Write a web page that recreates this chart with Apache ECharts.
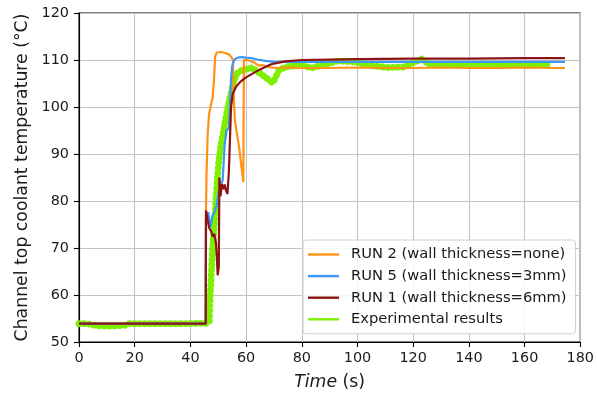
<!DOCTYPE html>
<html>
<head>
<meta charset="utf-8">
<script src="https://cdn.jsdelivr.net/npm/echarts@6/dist/echarts.min.js"></script>
<style>
  html, body { margin: 0; padding: 0; background: #fff; }
  #chart { width: 597px; height: 396px; }
</style>
</head>
<body>
<div id="chart"></div>
<script>
// ── Data ────────────────────────────────────────────────────────────────
const xTicks = [0, 20, 40, 60, 80, 100, 120, 140, 160, 180];
const yTicks = [50, 60, 70, 80, 90, 100, 110, 120];

// RUN 2 (wall thickness=none)
const run2Time = [0, 45.5, 45.6, 45.8, 46.2, 46.7, 47.4, 48.0, 48.5, 48.9, 49.5, 51, 52.5, 53.8, 54.8, 55.3, 55.5, 56.0, 56.8, 57.6, 58.4, 59.0, 59.2, 60, 61.5, 63, 64.5, 66, 68, 71, 75, 80, 90, 100, 110, 120, 130, 140, 150, 160, 170, 174.5];
const run2Temp = [53.9, 53.9, 78, 86, 94, 98.5, 100.5, 102, 106, 110.8, 111.6, 111.7, 111.5, 111.2, 110.6, 109.8, 103, 97, 94, 91, 87, 84, 110, 110, 109.8, 109.4, 108.8, 108.9, 108.5, 108.3, 108.4, 108.3, 108.3, 108.4, 108.3, 108.3, 108.4, 108.3, 108.3, 108.4, 108.3, 108.3];

// RUN 5 (wall thickness=3mm)
const run5Time = [0, 45.5, 45.6, 46.4, 47.2, 47.9, 48.6, 49.4, 50.2, 51.0, 51.6, 52.3, 53.0, 53.8, 54.2, 54.6, 55.0, 55.8, 57, 58.5, 60, 62, 64, 67, 70, 75, 80, 100, 120, 140, 160, 174.5];
const run5Temp = [53.9, 53.9, 76, 77.6, 74.4, 76.8, 77.5, 79, 82, 83.5, 84.5, 92, 95, 95.5, 100, 106, 108.7, 110.1, 110.5, 110.6, 110.5, 110.4, 110.1, 109.8, 109.6, 109.6, 109.6, 109.6, 109.6, 109.6, 109.6, 109.6];

// RUN 1 (wall thickness=6mm)
const run1Time = [0, 45.5, 45.6, 46.2, 46.8, 47.5, 48.0, 48.6, 49.2, 49.5, 49.8, 50.2, 50.4, 50.8, 51.3, 51.8, 52.3, 52.8, 53.3, 53.8, 54.2, 54.6, 55.2, 56.4, 58, 60, 62, 65, 69, 74, 80, 90, 100, 120, 140, 160, 174.5];
const run1Temp = [53.9, 53.9, 78, 76, 74.2, 73.5, 72.4, 73, 71, 68, 64.2, 66, 85, 81, 83.6, 82.5, 83.5, 82.2, 81.5, 86, 93, 100, 102.8, 104.3, 105.4, 106.3, 107, 108, 109.1, 109.7, 110, 110.1, 110.2, 110.3, 110.3, 110.4, 110.4];

// Experimental results
const expTime = [0, 3, 5, 8, 12, 16, 18, 25, 35, 46.5, 46.8, 47.0, 47.2, 47.5, 47.8, 48.1, 48.5, 48.9, 49.3, 49.7, 50.3, 51, 51.8, 52.5, 53.3, 54.2, 55.2, 56.2, 57.2, 58.5, 60, 62.4, 63.7, 65, 67.2, 69.6, 70.8, 72, 75, 80, 83.5, 88, 93, 99, 105, 110.7, 116.6, 123, 126, 130, 135, 140, 145, 150, 155, 160, 165, 168.5];
const expTemp = [53.9, 53.9, 53.6, 53.4, 53.4, 53.5, 53.9, 53.9, 53.9, 54.0, 54.5, 58, 61, 64.5, 68, 71, 74, 77.5, 81, 85, 89, 92, 94.5, 97, 99.5, 102, 104.5, 106.5, 107.5, 107.8, 108, 108.4, 107.6, 107.2, 106.2, 105.1, 106.6, 108, 108.6, 108.9, 108.3, 109, 109.8, 109.6, 108.8, 108.4, 108.5, 110.2, 109, 108.8, 109.2, 108.8, 109.2, 108.9, 109.1, 108.8, 109, 108.9];

// ── Style ───────────────────────────────────────────────────────────────
const fontFamily = 'DejaVu Sans';
const textColor = '#1a1a1a';
const orange = '#ff9214';
const blue = '#3d97f5';
const darkRed = '#8e1414';
const green = '#7cf000';
const gridColor = '#c4c4c4';

const pairs = (xs, ys) => xs.map((x, i) => [x, ys[i]]);

const chart = echarts.init(document.getElementById('chart'));
chart.setOption({
  animation: false,
  grid: {
    left: 79, right: 11.5, top: 13, bottom: 52.5,
    show: true, borderColor: '#000', borderWidth: 1.1,
  },
  legend: {
    orient: 'vertical',
    left: 303, top: 240,
    padding: [7, 9, 7, 5],
    icon: 'rect',
    itemWidth: 31, itemHeight: 2.4, itemGap: 6.6,
    backgroundColor: 'rgba(255,255,255,0.85)',
    borderColor: '#d0d0d0', borderWidth: 1, borderRadius: 3,
    textStyle: { fontFamily, fontSize: 14.7, lineHeight: 14, color: textColor, padding: [0, 0, 0, 7] },
    data: [
      'RUN 2 (wall thickness=none)',
      'RUN 5 (wall thickness=3mm)',
      'RUN 1 (wall thickness=6mm)',
      'Experimental results',
    ],
  },
  xAxis: {
    type: 'value', min: 0, max: 180, interval: 20,
    name: '{it|Time} (s)', nameLocation: 'middle', nameGap: 32,
    nameTextStyle: {
      fontFamily, fontSize: 17.3, color: textColor,
      rich: { it: { fontFamily, fontSize: 17.3, fontStyle: 'italic', color: textColor } },
    },
    axisLine: { show: true, lineStyle: { color: '#000', width: 1.1 } },
    axisTick: { show: true, length: 5, lineStyle: { color: '#000', width: 1.1 } },
    axisLabel: { fontFamily, fontSize: 14.4, color: textColor, margin: 9,
                 formatter: (v) => xTicks.includes(v) ? String(v) : '' },
    splitLine: { show: true, lineStyle: { color: gridColor, width: 1.1 } },
  },
  yAxis: {
    type: 'value', min: 50, max: 120, interval: 10,
    name: 'Channel top coolant temperature (°C)', nameLocation: 'middle', nameGap: 46,
    nameTextStyle: { fontFamily, fontSize: 17.3, color: textColor },
    axisLine: { show: true, lineStyle: { color: '#000', width: 1.1 } },
    axisTick: { show: true, length: 5, lineStyle: { color: '#000', width: 1.1 } },
    axisLabel: { fontFamily, fontSize: 14.4, color: textColor, margin: 10,
                 formatter: (v) => yTicks.includes(v) ? String(v) : '' },
    splitLine: { show: true, lineStyle: { color: gridColor, width: 1.1 } },
  },
  series: [
    {
      name: 'Experimental results', type: 'line',
      data: pairs(expTime, expTemp),
      symbol: 'none', silent: true, z: 1,
      lineStyle: { color: green, width: 6.8, type: [0.1, 5], cap: 'round', join: 'round' },
      itemStyle: { color: green },
    },
    {
      name: 'RUN 2 (wall thickness=none)', type: 'line',
      data: pairs(run2Time, run2Temp),
      symbol: 'none', silent: true, z: 2,
      lineStyle: { color: orange, width: 2.2 },
      itemStyle: { color: orange },
    },
    {
      name: 'RUN 5 (wall thickness=3mm)', type: 'line',
      data: pairs(run5Time, run5Temp),
      symbol: 'none', silent: true, z: 3,
      lineStyle: { color: blue, width: 2.2 },
      itemStyle: { color: blue },
    },
    {
      name: 'RUN 1 (wall thickness=6mm)', type: 'line',
      data: pairs(run1Time, run1Temp),
      symbol: 'none', silent: true, z: 4,
      lineStyle: { color: darkRed, width: 2.2 },
      itemStyle: { color: darkRed },
    },
  ],
});
</script>
</body>
</html>
